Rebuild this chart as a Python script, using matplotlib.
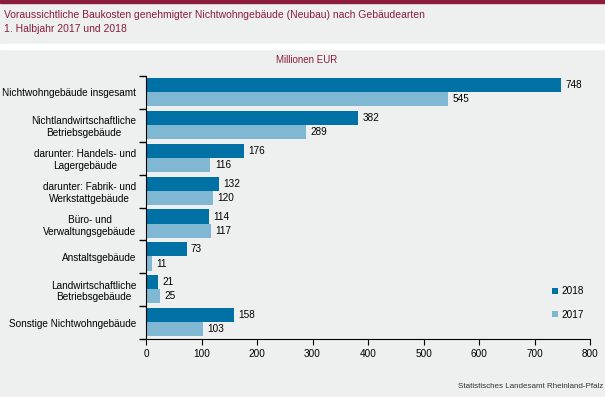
import numpy as np
import matplotlib.pyplot as plt
from matplotlib.patches import Rectangle
from matplotlib.ticker import FixedLocator

plt.rcParams['font.family'] = ['Liberation Sans', 'DejaVu Sans']

# Daten
kategorien = ["Nichtwohngebäude insgesamt",
              "Nichtlandwirtschaftliche\nBetriebsgebäude",
              "darunter: Handels- und\nLagergebäude",
              "darunter: Fabrik- und\nWerkstattgebäude",
              "Büro- und\nVerwaltungsgebäude",
              "Anstaltsgebäude",
              "Landwirtschaftliche\nBetriebsgebäude",
              "Sonstige Nichtwohngebäude"]
werte_2018 = [748, 382, 176, 132, 114, 73, 21, 158]
werte_2017 = [545, 289, 116, 120, 117, 11, 25, 103]
x_ticks = [0, 100, 200, 300, 400, 500, 600, 700, 800]

bg = "#eeefef"
dunkelrot = "#8b1d3b"
c2018 = "#0071a4"
c2017 = "#80b8d4"

W, H = 605, 397
fig = plt.figure(figsize=(W / 100, H / 100), dpi=100, facecolor=bg)

# Kopfbereich: roter Streifen, weisse Trennlinie
fig.patches.append(Rectangle((0, 1 - 3 / H), 1, 3 / H, transform=fig.transFigure,
                             color=dunkelrot, zorder=0))
fig.patches.append(Rectangle((0, 1 - 49 / H), 1, 5 / H, transform=fig.transFigure,
                             color="white", zorder=0))

fig.text(4 / W, 1 - 22 / H, "Voraussichtliche Baukosten genehmigter Nichtwohngebäude (Neubau) nach Gebäudearten\n"
         "1. Halbjahr 2017 und 2018", color=dunkelrot, fontsize=7.5, va="center", ha="left",
         linespacing=1.45)
fig.text(307 / W, 1 - 60 / H, "Millionen EUR", color=dunkelrot, fontsize=7, ha="center", va="center")
fig.text(603 / W, 1 - 387 / H, "Statistisches Landesamt Rheinland-Pfalz", color="#333333",
         fontsize=5.8, ha="right", va="center")

ax = fig.add_axes([146 / W, 1 - 339 / H, (590 - 146) / W, (339 - 76) / H])
ax.set_facecolor(bg)

n = len(kategorien)
y = np.arange(n)
h = 0.43
ax.barh(y - h / 2 - 0.01, werte_2018, height=h, color=c2018, label="2018")
ax.barh(y + h / 2 - 0.01, werte_2017, height=h, color=c2017, label="2017")

for i in range(n):
    ax.text(werte_2018[i] + 8, y[i] - h / 2 - 0.01, str(werte_2018[i]), va="center", ha="left", fontsize=7.2)
    ax.text(werte_2017[i] + 8, y[i] + h / 2 - 0.01, str(werte_2017[i]), va="center", ha="left", fontsize=7.2)

ax.set_ylim(n - 0.5, -0.5)
ax.set_xlim(0, 800)
ax.set_xticks(x_ticks)
ax.set_yticks(y)
ax.set_yticklabels(kategorien, fontsize=7.2, ha="right", multialignment="center")
ax.yaxis.set_minor_locator(FixedLocator(np.arange(-0.5, n, 1)))
ax.tick_params(axis="y", which="major", length=0, pad=7)
ax.tick_params(axis="y", which="minor", length=5, width=1)
ax.tick_params(axis="x", length=4, labelsize=7.2, pad=3)
for s in ["top", "right"]:
    ax.spines[s].set_visible(False)

ax.legend(loc="center left", bbox_to_anchor=(543 / W, 1 - 303 / H), bbox_transform=fig.transFigure,
          frameon=False, fontsize=7.2, handlelength=0.6, handleheight=0.6, handletextpad=0.3,
          labelspacing=1.3)

fig.savefig("out.png", dpi=100, facecolor=bg)
